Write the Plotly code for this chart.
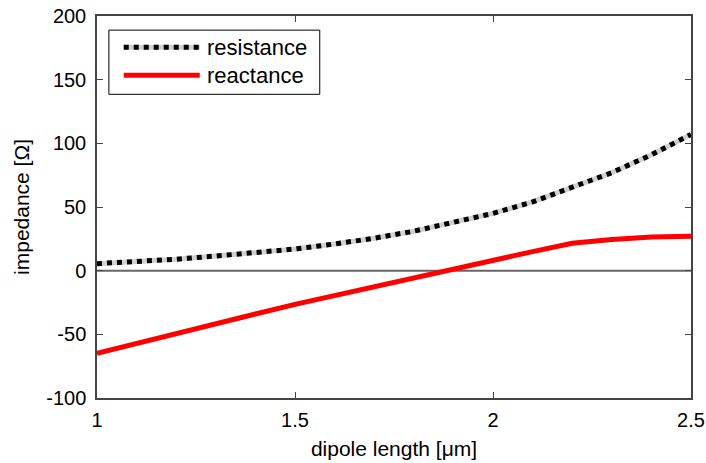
import plotly.graph_objects as go

length_um = [1.0, 1.1, 1.2, 1.3, 1.4, 1.5, 1.6, 1.7, 1.8, 1.9, 2.0, 2.1, 2.2, 2.3, 2.4, 2.5]
resistance = [5.5, 7, 9, 11.5, 14, 17, 21, 25.5, 31, 38, 45, 54, 65, 77, 91, 107]
reactance = [-65, -57, -49, -41.5, -34, -26.5, -19.5, -12, -5, 2, 8.5, 15, 21.5, 24.5, 26.5, 27]
x_ticks = [1, 1.5, 2, 2.5]
y_ticks = [-100, -50, 0, 50, 100, 150, 200]

FONT = "Liberation Sans, Arial, sans-serif"
FS_TICK = 20
FS_TITLE = 21
FS_LEG = 22

fig = go.Figure()
fig.add_trace(go.Scatter(x=[1, 2.5], y=[0, 0], mode="lines",
                         line=dict(color="#666666", width=2), showlegend=False, hoverinfo="skip"))
fig.add_trace(go.Scatter(x=length_um, y=resistance, mode="lines", name="resistance",
                         line=dict(color="#d0d0d0", width=5), showlegend=False))
fig.add_trace(go.Scatter(x=length_um, y=resistance, mode="lines", name="resistance",
                         line=dict(color="black", width=5, dash="dot"), showlegend=False))
fig.add_trace(go.Scatter(x=length_um, y=reactance, mode="lines", name="reactance",
                         line=dict(color="#ff0000", width=5), showlegend=False))

# legend box (paper coords)
shapes = [
    dict(type="rect", xref="paper", yref="paper", x0=0.02, x1=0.375, y0=0.795, y1=0.963,
         line=dict(color="black", width=1), fillcolor="white", layer="above"),
    dict(type="line", xref="paper", yref="paper", x0=0.045, x1=0.173, y0=0.918, y1=0.918,
         line=dict(color="#d0d0d0", width=5), layer="above"),
    dict(type="line", xref="paper", yref="paper", x0=0.045, x1=0.173, y0=0.918, y1=0.918,
         line=dict(color="black", width=5, dash="dot"), layer="above"),
    dict(type="line", xref="paper", yref="paper", x0=0.045, x1=0.173, y0=0.845, y1=0.845,
         line=dict(color="#ff0000", width=5), layer="above"),
]
annotations = [
    dict(xref="paper", yref="paper", x=0.182, y=0.918, text="resistance", showarrow=False,
         xanchor="left", yanchor="middle", font=dict(family=FONT, size=FS_LEG, color="black")),
    dict(xref="paper", yref="paper", x=0.182, y=0.845, text="reactance", showarrow=False,
         xanchor="left", yanchor="middle", font=dict(family=FONT, size=FS_LEG, color="black")),
]

axis_common = dict(showgrid=False, zeroline=False, showline=True, linecolor="#444444", linewidth=1.5,
                   mirror="ticks", ticks="inside", ticklen=6, tickcolor="#444444", tickwidth=1,
                   automargin=False, ticklabeloverflow="allow",
                   tickfont=dict(family=FONT, size=FS_TICK, color="black"))

fig.update_layout(
    width=706, height=463,
    margin=dict(l=97, r=15, t=16, b=65),
    paper_bgcolor="white", plot_bgcolor="white",
    shapes=shapes, annotations=annotations,
    xaxis=dict(range=[1, 2.5], tickvals=x_ticks, ticktext=[str(v) for v in x_ticks],
               ticklabelstandoff=3,
               title=dict(text="dipole length [μm]", font=dict(family=FONT, size=FS_TITLE, color="black"), standoff=12),
               **axis_common),
    yaxis=dict(range=[-100, 200], tickvals=y_ticks, ticktext=[str(v) for v in y_ticks],
               ticklabelstandoff=5,
               title=dict(text="impedance [Ω]", font=dict(family=FONT, size=FS_TITLE, color="black"), standoff=11),
               **axis_common),
    showlegend=False,
)

fig.write_html("out.html")
